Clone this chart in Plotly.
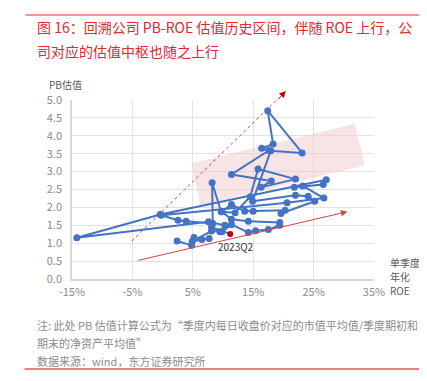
import plotly.graph_objects as go

# ROE (single-quarter annualised, %) and PB valuation path
roe = [2.4, 4.8, 5.2, 6.5, 7.7, 4.9, 8.1, 9.5, 10.3, 7.6, -14.2, -0.4,
       27.1, 26.6, 21.8, 23.2, 26.7, 20.6, -0.2, 2.55, 3.9, 8.3, 8.2, 9.7,
       12.0, 14.5, 15.8, 22.0, 16.3, 18.0, 11.4, 17.6, 16.4, 18.3, 17.4, 23.1,
       17.9, 14.9, 22.0, 24.1, 25.2, 19.6, 20.3, 15.0, 13.6, 11.4, 9.8, 11.4,
       14.2, 19.4, 19.4, 17.5, 15.4, 14.2, 11.4, 9.8, 8.1, 11.2]
pb = [1.06, 0.94, 1.16, 1.10, 1.13, 1.05, 1.34, 1.32, 1.50, 1.60, 1.15, 1.80,
      2.77, 2.64, 2.56, 2.60, 2.26, 2.13, 1.78, 1.64, 1.61, 1.55, 2.69, 1.88,
      1.85, 2.30, 3.07, 2.79, 2.56, 2.74, 2.92, 3.59, 3.65, 3.77, 4.70, 3.52,
      3.58, 2.17, 2.34, 2.31, 2.17, 1.83, 1.92, 1.89, 1.89, 2.08, 1.88, 1.67,
      1.61, 1.58, 1.50, 1.38, 1.35, 1.30, 1.52, 1.32, 1.45, 1.26]
last_label = "2023Q2"

x_ticks = [-15, -5, 5, 15, 25, 35]
x_ticktext = ["-15%", "-5%", "5%", "15%", "25%", "35%"]
y_ticks = [0.0, 0.5, 1.0, 1.5, 2.0, 2.5, 3.0, 3.5, 4.0, 4.5, 5.0]

# band and trend arrows (data coords)
band_x = [4.8, 31.8, 33.5, 6.2]
band_y = [3.23, 4.34, 3.18, 2.05]
up_arrow = [(-5.1, 1.06), (20.4, 5.25)]
low_arrow = [(-4.3, 0.51), (30.6, 1.88)]

BLUE = "#4472C4"
RED_T = "#E0282E"
FONT = "Noto Sans CJK SC"

colors = [BLUE] * (len(roe) - 1) + ["#C00000"]
sizes = [7] * (len(roe) - 1) + [6]

fig = go.Figure()

# pink band
fig.add_trace(go.Scatter(
    x=band_x + [band_x[0]], y=band_y + [band_y[0]], mode="lines",
    fill="toself", fillcolor="rgba(240,195,195,0.45)", line=dict(width=0),
    hoverinfo="skip", showlegend=False))

fig.add_trace(go.Scatter(
    x=roe, y=pb, mode="lines+markers",
    line=dict(color=BLUE, width=2),
    marker=dict(color=colors, size=sizes, opacity=1, line=dict(width=0)),
    showlegend=False))

# trend lines
fig.add_shape(type="line", x0=up_arrow[0][0], y0=up_arrow[0][1],
              x1=up_arrow[1][0], y1=up_arrow[1][1], xref="x", yref="y",
              line=dict(color="#E04040", width=1, dash="dot"))
fig.add_annotation(x=up_arrow[1][0], y=up_arrow[1][1], ax=up_arrow[1][0] - 1.5,
                   ay=up_arrow[1][1] - 0.27, axref="x", ayref="y", xref="x", yref="y",
                   text="", showarrow=True, arrowhead=2, arrowsize=1.3,
                   arrowwidth=1, arrowcolor="#C00000")
fig.add_annotation(x=low_arrow[1][0], y=low_arrow[1][1], ax=low_arrow[0][0],
                   ay=low_arrow[0][1], axref="x", ayref="y", xref="x", yref="y",
                   text="", showarrow=True, arrowhead=2, arrowsize=1.3,
                   arrowwidth=1, arrowcolor="#E04040")

fig.add_annotation(x=roe[-1], y=pb[-1], text=last_label, showarrow=False,
                   yshift=-13, xshift=6, font=dict(family=FONT, size=10, color="#333333"))

axis_common = dict(showgrid=True, gridcolor="#E3E3E3", gridwidth=1,
                   showline=True, linecolor="#D9D9D9", linewidth=1.5,
                   zeroline=False, ticks="",
                   tickfont=dict(family=FONT, size=11, color="#8C8C8C"))
fig.update_xaxes(range=[-15, 35], tickvals=x_ticks, ticktext=x_ticktext,
                 ticklabelstandoff=2, **axis_common)
fig.update_yaxes(range=[0, 5], tickvals=y_ticks, tickformat=".1f",
                 ticklabelstandoff=6, **axis_common)

# title rule
fig.add_shape(type="line", xref="paper", yref="paper",
              x0=(17 - 63.5) / 302.5, x1=(427 - 63.5) / 302.5,
              y0=(271 - 7) / 179, y1=(271 - 7) / 179,
              line=dict(color="#F07070", width=1.5))


def pann(px, py, text, size, color, anchor="left"):
    fig.add_annotation(xref="paper", yref="paper",
                       x=(px - 63.5) / (366 - 63.5), y=(271 - py) / (271 - 92),
                       text=text, showarrow=False, xanchor=anchor, yanchor="middle",
                       font=dict(family=FONT, size=size, color=color), align="left")


pann(26, 19, "图 16：回溯公司 PB-ROE 估值历史区间，伴随 ROE 上行，公", 14, RED_T)
pann(26, 43, "司对应的估值中枢也随之上行", 14, RED_T)
pann(38, 77, "PB估值", 10, "#595959")
pann(380, 254, "单季度", 10, "#595959")
pann(380, 268, "年化", 10, "#595959")
pann(380, 282, "ROE", 10, "#595959")
pann(26, 317, "注: 此处 PB 估值计算公式为“季度内每日收盘价对应的市值平均值/季度期初和", 11, "#8C8C8C")
pann(26, 335, "期末的净资产平均值”", 11, "#8C8C8C")
pann(26, 353, "数据来源：wind，东方证券研究所", 11, "#8C8C8C")
fig.add_shape(type="line", xref="paper", yref="paper",
              x0=(16 - 63.5) / 302.5, x1=(427 - 63.5) / 302.5,
              y0=(271 - 361) / 179, y1=(271 - 361) / 179,
              line=dict(color="#F05050", width=1.5))

fig.update_layout(width=427, height=381, autosize=False,
                  margin=dict(l=63.5, r=61, t=92, b=110),
                  paper_bgcolor="white", plot_bgcolor="white",
                  font=dict(family=FONT))

fig.write_html("out.html")
